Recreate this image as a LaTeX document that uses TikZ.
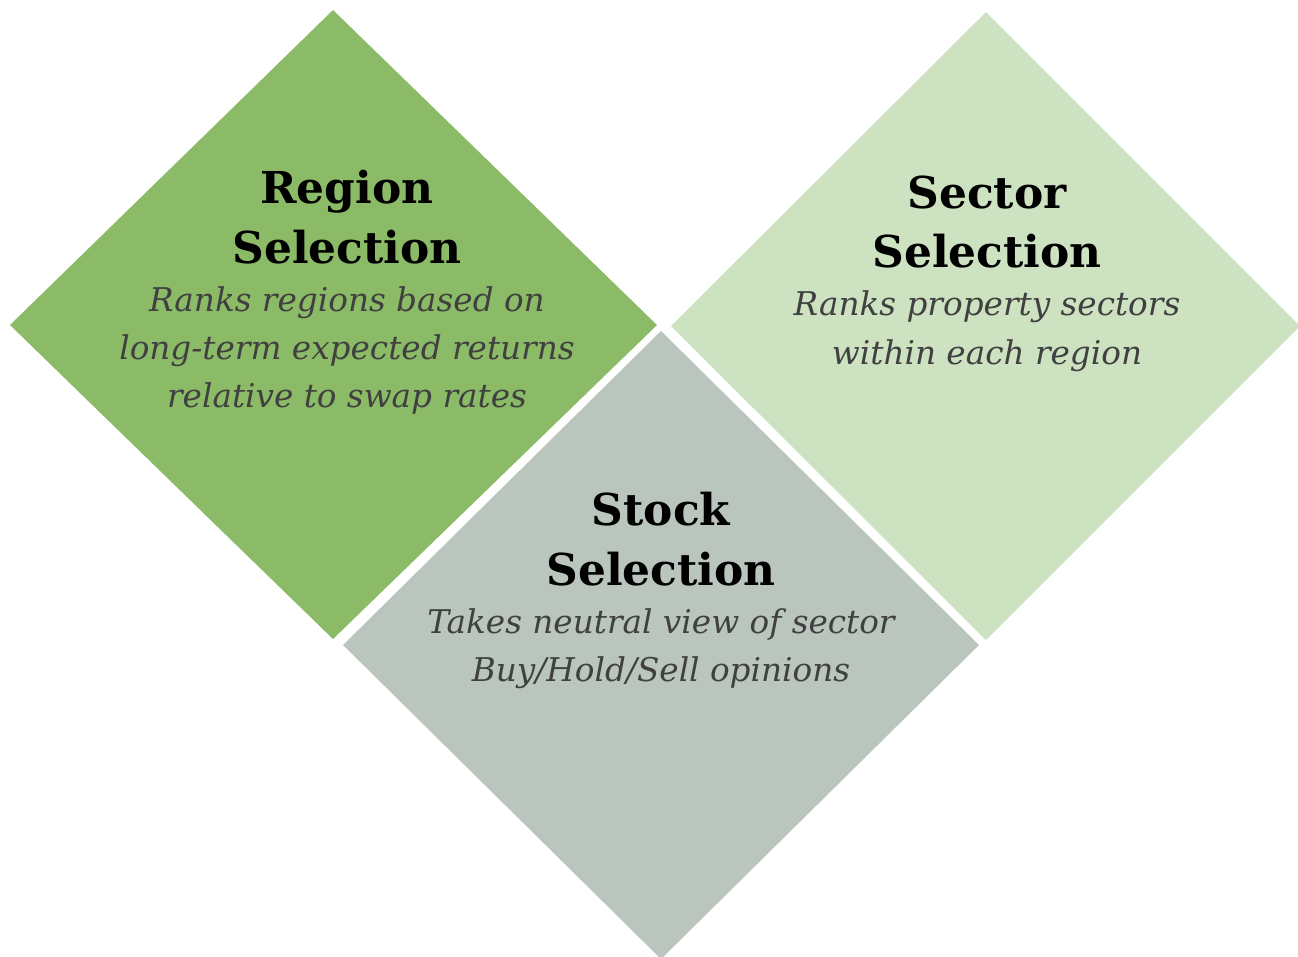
\documentclass[tikz,border=0pt]{standalone}
\usepackage{fontspec}
\setmainfont{DejaVu Serif}
\usetikzlibrary{positioning}

\definecolor{regiongreen}{HTML}{8BBB67}
\definecolor{sectorgreen}{HTML}{CDE2C0}
\definecolor{stockgray}{HTML}{B9C5BD}
\definecolor{blurbgray}{HTML}{404040}

\tikzset{
  heading/.style={align=center, inner sep=0pt, font=\bfseries\fontsize{12.5}{17}\selectfont},
  blurb/.style={align=center, inner sep=0pt, text=blurbgray, font=\itshape\fontsize{9.3}{13.75}\selectfont},
}

\begin{document}
\begin{tikzpicture}[x=0.1mm,y=-0.1mm]
%\draw[step=50,gray,very thin] (0,0) grid (1298,956); %background grid
\useasboundingbox (0,0) rectangle (1298,956);

% the three diamonds
\fill[regiongreen] (333,10) -- (657,325) -- (333,639) -- (10,325) -- cycle;
\fill[sectorgreen] (986,12) -- (1300,326) -- (986,640) -- (671,326) -- cycle;
\fill[stockgray]   (661,331) -- (979,645) -- (661,959) -- (343,645) -- cycle;

% texts
\node[heading] (regionhead) at (347,217) {Region\\Selection};
\node[blurb, below=6pt of regionhead] (regiontext) {Ranks regions based on\\long-term expected returns\\relative to swap rates};

\node[heading] (sectorhead) at (987,222) {Sector\\Selection};
\node[blurb, below=6pt of sectorhead] (sectortext) {Ranks property sectors\\within each region};

\node[heading] (stockhead) at (661,539) {Stock\\Selection};
\node[blurb, below=6pt of stockhead] (stocktext) {Takes neutral view of sector\\Buy/Hold/Sell opinions};

\end{tikzpicture}
\end{document}
